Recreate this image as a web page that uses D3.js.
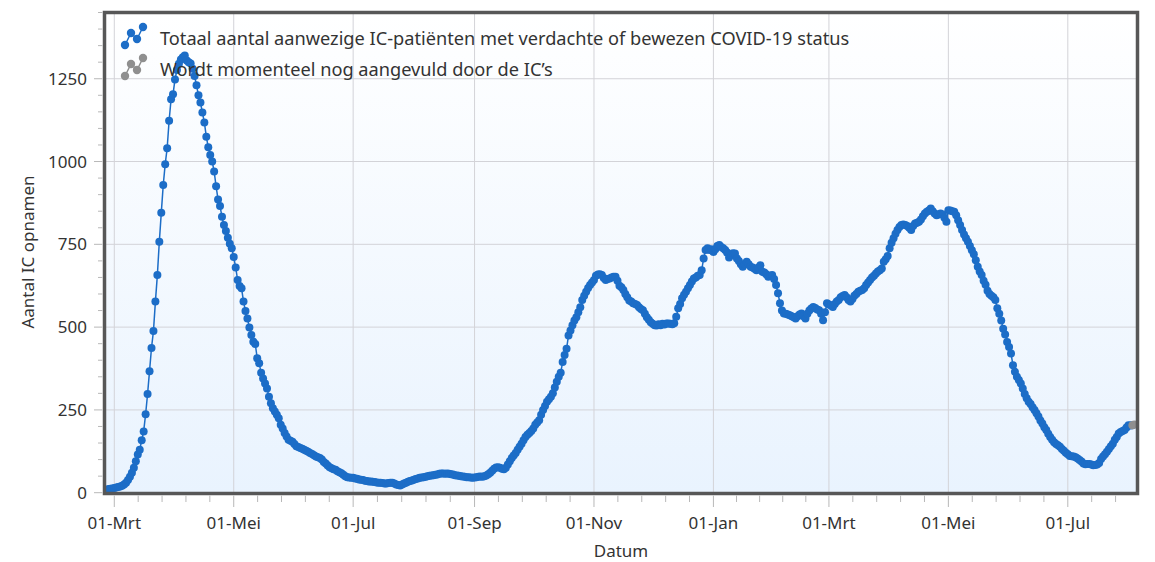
<!DOCTYPE html>
<html>
<head>
<meta charset="utf-8">
<script src="https://cdn.jsdelivr.net/npm/d3@7"></script>
<style>
  body { margin: 0; background: #fff; }
  text { font-family: "Noto Sans", "Open Sans", sans-serif; fill: #333; }
</style>
</head>
<body>
<svg id="chart" width="1155" height="562"></svg>
<script>
// daily IC occupancy, first value is 27-02-2020, one value per day
var startDate = "2020-02-27";
var icValues = [
  11, 12, 13,
  // mrt 2020
  14, 16, 17, 19, 21, 25, 30, 38, 48, 60, 75, 95, 115, 130, 158, 185, 237, 298, 367, 437, 488, 577, 657, 758, 845, 929, 992, 1040, 1123, 1188, 1203,
  // apr
  1248, 1276, 1295, 1308, 1315, 1320, 1305, 1300, 1296, 1280, 1258, 1230, 1200, 1178, 1148, 1118, 1075, 1043, 1020, 1000, 970, 925, 885, 866, 833, 808, 790, 770, 752, 738,
  // mei
  712, 680, 642, 624, 617, 577, 549, 526, 499, 476, 456, 449, 406, 391, 362, 345, 330, 315, 290, 270, 255, 245, 235, 225, 205, 194, 180, 170, 160, 157, 154,
  // jun
  147, 140, 138, 135, 133, 130, 127, 124, 120, 117, 113, 109, 107, 105, 100, 93, 88, 82, 77, 74, 71, 69, 65, 62, 59, 54, 50, 47, 46, 45,
  // jul
  45, 43, 42, 40, 39, 38, 36, 35, 34, 34, 33, 32, 31, 30, 30, 29, 28, 28, 29, 30, 30, 28, 25, 23, 22, 25, 28, 30, 33, 35, 37,
  // aug
  39, 41, 43, 45, 46, 47, 48, 50, 51, 52, 53, 54, 55, 57, 58, 58, 57, 58, 57, 56, 55, 53, 52, 51, 50, 49, 48, 47, 47, 46, 45,
  // sep
  46, 47, 48, 49, 48, 50, 52, 56, 60, 66, 72, 76, 77, 75, 72, 71, 75, 85, 95, 105, 112, 120, 130, 139, 148, 158, 168, 175, 180, 186,
  // okt
  194, 205, 212, 219, 235, 250, 262, 275, 282, 290, 300, 318, 335, 350, 362, 395, 416, 435, 475, 490, 506, 520, 530, 545, 560, 582, 595, 607, 618, 627, 635,
  // nov
  642, 655, 659, 660, 657, 648, 642, 645, 647, 650, 652, 652, 640, 625, 620, 612, 600, 590, 580, 577, 572, 570, 567, 560, 555, 551, 540, 530, 522, 515,
  // dec
  510, 506, 505, 509, 506, 510, 508, 511, 511, 510, 509, 512, 531, 557, 570, 587, 598, 607, 617, 627, 638, 647, 650, 655, 657, 672, 707, 733, 738, 733, 735,
  // jan 2021
  727, 735, 745, 748, 742, 738, 733, 725, 710, 718, 723, 722, 707, 700, 690, 682, 690, 697, 690, 682, 680, 676, 672, 680, 687, 667, 665, 660, 652, 655, 657,
  // feb
  645, 627, 602, 572, 550, 541, 540, 538, 536, 533, 530, 526, 533, 538, 541, 533, 526, 540, 550, 556, 561, 558, 553, 551, 540, 521, 545, 572,
  // mrt
  568, 565, 561, 570, 577, 582, 590, 594, 597, 590, 582, 577, 585, 595, 600, 607, 610, 612, 617, 627, 635, 642, 650, 655, 662, 668, 672, 677, 697, 705, 715,
  // apr
  738, 755, 768, 782, 793, 802, 808, 810, 808, 805, 800, 793, 805, 813, 815, 818, 825, 835, 843, 848, 852, 858, 850, 843, 838, 840, 843, 840, 830, 818,
  // mei
  853, 852, 850, 848, 838, 823, 808, 793, 780, 768, 758, 745, 732, 720, 702, 682, 668, 657, 640, 628, 610, 600, 595, 590, 582, 557, 540, 520, 495, 478, 455,
  // jun
  440, 420, 385, 365, 350, 340, 330, 315, 298, 285, 275, 268, 258, 250, 240, 230, 218, 209, 198, 189, 178, 168, 160, 152, 147, 143, 139, 132, 127, 121,
  // jul
  116, 111, 110, 109, 107, 103, 99, 94, 88, 86, 87, 87, 85, 83, 84, 85, 90, 102, 109, 116, 124, 132, 140, 148, 160, 168, 179, 183, 186, 189, 197,
  // aug
  204, 203, 204
];

// last days, still being filled in by the ICs (grey)
var pendingStart = "2021-08-03";
var pendingValues = [204, 206];

var xTickDates = ["2020-03-01", "2020-05-01", "2020-07-01", "2020-09-01", "2020-11-01", "2021-01-01", "2021-03-01", "2021-05-01", "2021-07-01"];
var xTickLabels = ["01-Mrt", "01-Mei", "01-Jul", "01-Sep", "01-Nov", "01-Jan", "01-Mrt", "01-Mei", "01-Jul"];
var yTicks = [0, 250, 500, 750, 1000, 1250];
var legendLabels = [
  "Totaal aantal aanwezige IC-patiënten met verdachte of bewezen COVID-19 status",
  "Wordt momenteel nog aangevuld door de IC’s"
];

var blue = "#1c6dc7",
    grey = "#8f8f8f";

var plot = { left: 104.5, right: 1137.5, top: 12.5, bottom: 493.5 };
var DAY = 864e5;
var parse = d3.utcParse("%Y-%m-%d");

function toSeries(start, values) {
  var t0 = parse(start);
  return values.map(function(v, i) {
    return { date: d3.utcDay.offset(t0, i), value: v };
  });
}

var mainData = toSeries(startDate, icValues);
var pendingData = toSeries(pendingStart, pendingValues);
// grey line starts from the last blue point
pendingData.unshift(mainData[mainData.length - 1]);

var base = parse("2020-03-01");
var x = d3.scaleUtc()
  .domain([new Date(base.getTime() - 5.0 * DAY), new Date(base.getTime() + 522.6 * DAY)])
  .range([plot.left, plot.right]);

var y = d3.scaleLinear()
  .domain([0, 1450])
  .range([492.7, plot.top]);

var svg = d3.select("#chart");

var defs = svg.append("defs");
var grad = defs.append("linearGradient")
  .attr("id", "bg")
  .attr("x1", 0).attr("y1", 0).attr("x2", 0).attr("y2", 1);
grad.append("stop").attr("offset", "0%").attr("stop-color", "#ffffff");
grad.append("stop").attr("offset", "100%").attr("stop-color", "#e9f3fe");

svg.append("rect")
  .attr("x", plot.left)
  .attr("y", plot.top)
  .attr("width", plot.right - plot.left)
  .attr("height", plot.bottom - plot.top)
  .attr("fill", "url(#bg)");

var tickDates = xTickDates.map(parse);

// grid
svg.append("g")
  .selectAll("line.vgrid")
  .data(tickDates)
  .enter()
  .append("line")
    .attr("x1", function(d) { return x(d); })
    .attr("x2", function(d) { return x(d); })
    .attr("y1", plot.top)
    .attr("y2", plot.bottom)
    .attr("stroke", "#d3d3d8")
    .attr("stroke-width", 1);

svg.append("g")
  .selectAll("line")
  .data(yTicks)
  .enter()
  .append("line")
    .attr("x1", plot.left)
    .attr("x2", plot.right)
    .attr("y1", function(d) { return y(d); })
    .attr("y2", function(d) { return y(d); })
    .attr("stroke", "#d3d3d8")
    .attr("stroke-width", 1);

// series
var line = d3.line()
  .x(function(d) { return x(d.date); })
  .y(function(d) { return y(d.value); });

function drawSeries(data, colour) {
  var g = svg.append("g");
  g.append("path")
    .datum(data)
    .attr("d", line)
    .attr("fill", "none")
    .attr("stroke", colour)
    .attr("stroke-width", 1.5);
  g.selectAll("circle")
    .data(data)
    .enter()
    .append("circle")
      .attr("cx", function(d) { return x(d.date); })
      .attr("cy", function(d) { return y(d.value); })
      .attr("r", 4)
      .attr("fill", colour);
}
drawSeries(mainData, blue);
drawSeries(pendingData.slice(1), grey);

// frame
svg.append("rect")
  .attr("x", plot.left)
  .attr("y", plot.top)
  .attr("width", plot.right - plot.left)
  .attr("height", plot.bottom - plot.top)
  .attr("fill", "none")
  .attr("stroke", "#575757")
  .attr("stroke-width", 3.5);

// y axis ticks + labels
var yMinor = d3.range(0, 1451, 50);
svg.append("g")
  .selectAll("line")
  .data(yMinor)
  .enter()
  .append("line")
    .attr("x1", function(d) { return d % 250 === 0 ? 94 : 98; })
    .attr("x2", plot.left - 2)
    .attr("y1", function(d) { return y(d); })
    .attr("y2", function(d) { return y(d); })
    .attr("stroke", "#b8b8b8")
    .attr("stroke-width", 1);

svg.append("g")
  .selectAll("text")
  .data(yTicks)
  .enter()
  .append("text")
    .attr("x", 87)
    .attr("y", function(d) { return y(d); })
    .attr("dy", "0.36em")
    .attr("text-anchor", "end")
    .style("font-size", "17px")
    .text(function(d) { return d; });

// x axis ticks + labels
var xMinor = [];
for (var i = 0; i < tickDates.length; i++) {
  var t0 = tickDates[i].getTime();
  var t1 = i < tickDates.length - 1 ? tickDates[i + 1].getTime() : t0 + 61 * DAY;
  for (var k = 0; k < 5; k++) {
    var t = new Date(t0 + (t1 - t0) * k / 5);
    if (x(t) < plot.right - 5) xMinor.push({ date: t, major: k === 0 });
  }
}
svg.append("g")
  .selectAll("line")
  .data(xMinor)
  .enter()
  .append("line")
    .attr("x1", function(d) { return x(d.date); })
    .attr("x2", function(d) { return x(d.date); })
    .attr("y1", plot.bottom + 2)
    .attr("y2", function(d) { return d.major ? 507 : 502; })
    .attr("stroke", "#b8b8b8")
    .attr("stroke-width", 1);

svg.append("g")
  .selectAll("text")
  .data(tickDates)
  .enter()
  .append("text")
    .attr("x", function(d) { return x(d); })
    .attr("y", 529)
    .attr("text-anchor", "middle")
    .style("font-size", "17px")
    .text(function(d, i) { return xTickLabels[i]; });

// axis titles
svg.append("text")
  .attr("x", 621)
  .attr("y", 557)
  .attr("text-anchor", "middle")
  .style("font-size", "17px")
  .text("Datum");

svg.append("text")
  .attr("transform", "translate(34,252) rotate(-90)")
  .attr("text-anchor", "middle")
  .style("font-size", "17px")
  .text("Aantal IC opnamen");

// legend
var iconShape = [[0, 12], [6, 0], [12, 6], [18, -6]];
var legend = svg.append("g").attr("transform", "translate(125,33)");
legendLabels.forEach(function(label, i) {
  var g = legend.append("g").attr("transform", "translate(0," + (i * 31) + ")");
  var colour = i === 0 ? blue : grey;
  g.append("path")
    .attr("d", d3.line()(iconShape))
    .attr("fill", "none")
    .attr("stroke", colour)
    .attr("stroke-width", 1.5);
  g.selectAll("circle")
    .data(iconShape)
    .enter()
    .append("circle")
      .attr("cx", function(d) { return d[0]; })
      .attr("cy", function(d) { return d[1]; })
      .attr("r", 4.2)
      .attr("fill", colour);
  g.append("text")
    .attr("x", 35)
    .attr("y", 12)
    .style("font-size", "18.2px")
    .text(label);
});
</script>
</body>
</html>
